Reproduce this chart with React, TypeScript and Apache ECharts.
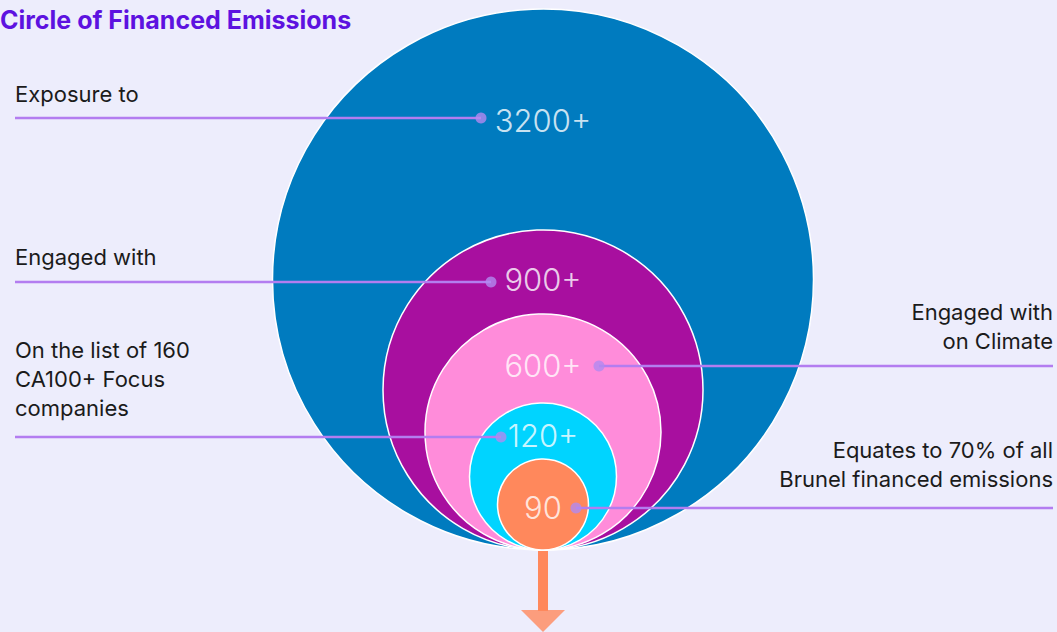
import { useEffect, useRef } from "react";
import * as echarts from "echarts";

// ---- data ----
const valueLabels = ["3200+", "900+", "600+", "120+", "90"];
const counts = [3200, 900, 600, 120, 90];
const radii = [270.5, 160, 118, 73.5, 45.5];
const descriptions = [
  "Exposure to",
  "Engaged with",
  "Engaged with\non Climate",
  "On the list of 160\nCA100+ Focus\ncompanies",
  "Equates to 70% of all\nBrunel financed emissions",
];
const leaderSide = ["left", "left", "right", "left", "right"];
const labelDepth = [111, 49, 51, 32, 48];
const leaderY = [118, 282, 366, 437, 508];
const leaderDotX = [481, 491, 599, 501, 576];
const descTop = [79, 242, 297, 335, 435];

// ---- layout / style ----
const W = 1057;
const H = 632;
const CX = 543;
const BASE_Y = 550;
const LEFT_X = 15;
const RIGHT_X = 1053;
const colors = ["#007BBF", "#A80F9F", "#FF8CDA", "#00D4FF", "#FF885C"];
const LEADER = "#B37DF0";
const FONT = "Inter, 'Noto Sans', sans-serif";

export default function App() {
  const ref = useRef<HTMLDivElement>(null);
  useEffect(() => {
    if (!ref.current) return;
    const chart = echarts.init(ref.current, null, { renderer: "svg" });

    const circleSeries = counts.map((c, i) => ({
      type: "scatter",
      name: valueLabels[i],
      z: 2 + i,
      silent: true,
      symbol: "circle",
      symbolSize: radii[i] * 2,
      itemStyle: { color: colors[i], borderColor: "#ffffff", borderWidth: 1.5, opacity: 1 },
      data: [{ value: [CX, BASE_Y - radii[i], c] }],
      label: { show: false },
    }));

    const numberLabels = {
      type: "scatter",
      z: 20,
      silent: true,
      symbolSize: 0,
      data: counts.map((c, i) => ({
        value: [CX, BASE_Y - 2 * radii[i] + labelDepth[i], c],
        label: {
          show: true,
          position: "inside",
          formatter: valueLabels[i],
          color: "#ffffff",
          fontSize: 31,
          fontWeight: 300,
          fontFamily: FONT,
        },
      })),
    };

    const leaderLines = counts.map((_, i) => ({
      type: "line",
      z: 15,
      silent: true,
      symbol: "none",
      lineStyle: { color: LEADER, width: 2.5 },
      data:
        leaderSide[i] === "left"
          ? [[LEFT_X, leaderY[i]], [leaderDotX[i], leaderY[i]]]
          : [[leaderDotX[i], leaderY[i]], [RIGHT_X, leaderY[i]]],
    }));

    const leaderDots = {
      type: "scatter",
      z: 16,
      silent: true,
      symbolSize: 11,
      itemStyle: { color: "#B28AF0" },
      data: counts.map((_, i) => [leaderDotX[i], leaderY[i]]),
    };

    const arrowStem = {
      type: "line",
      z: 1,
      silent: true,
      symbol: "none",
      lineStyle: { color: colors[4], width: 10, cap: "butt" },
      data: [[CX, BASE_Y], [CX, 611]],
    };
    const arrowHead = {
      type: "scatter",
      z: 1,
      silent: true,
      symbol: "triangle",
      symbolRotate: 180,
      symbolSize: [44, 22],
      itemStyle: { color: colors[4] },
      data: [[CX, 621]],
    };

    const texts = descriptions.map((d, i) => ({
      type: "text",
      z: 30,
      x: leaderSide[i] === "left" ? LEFT_X : RIGHT_X,
      y: descTop[i],
      style: {
        text: d,
        fill: "#1b1b1b",
        font: `400 22px ${FONT}`,
        lineHeight: 29,
        align: leaderSide[i] === "left" ? "left" : "right",
        verticalAlign: "top",
      },
    }));

    chart.setOption({
      animation: false,
      backgroundColor: "#EDEDFC",
      grid: { left: 0, right: 0, top: 0, bottom: 0, containLabel: false },
      xAxis: { type: "value", min: 0, max: W, show: false },
      yAxis: { type: "value", min: 0, max: H, inverse: true, show: false },
      graphic: [
        {
          type: "text",
          z: 30,
          x: 0,
          y: 7,
          style: {
            text: "Circle of Financed Emissions",
            fill: "#5D12E0",
            font: `700 25px ${FONT}`,
            verticalAlign: "top",
          },
        },
        ...texts,
      ],
      series: [arrowStem, arrowHead, ...circleSeries, ...leaderLines, leaderDots, numberLabels],
    });
    return () => chart.dispose();
  }, []);
  return (
    <div
      ref={ref}
      style={{ position: "fixed", left: 0, top: 0, width: W, height: H }}
    />
  );
}
